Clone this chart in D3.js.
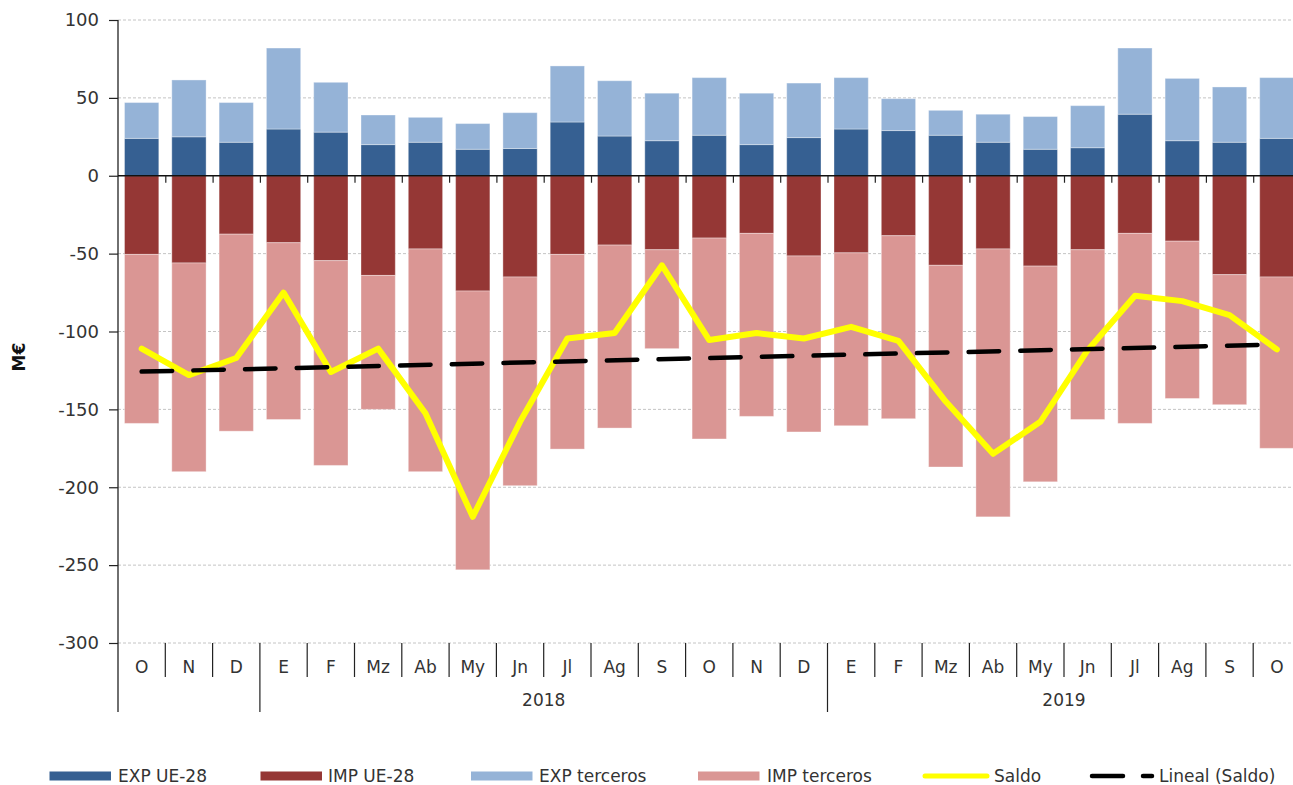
<!DOCTYPE html>
<html>
<head>
<meta charset="utf-8">
<script src="https://cdn.jsdelivr.net/npm/d3@7"></script>
<style>
  html, body { margin: 0; padding: 0; background: #fff; }
  svg { display: block; font-family: "DejaVu Sans", Verdana, sans-serif; }
</style>
</head>
<body>
<svg id="chart" width="1293" height="785"></svg>
<script>
// Monthly trade flows (M€), Oct 2017 – Oct 2019
const months = ["O","N","D","E","F","Mz","Ab","My","Jn","Jl","Ag","S","O","N","D","E","F","Mz","Ab","My","Jn","Jl","Ag","S","O"];
const years = [
  { label: "2018", from: 3, to: 14 },
  { label: "2019", from: 15, to: 24 }
];
const expUE  = [24, 25, 21.5, 30, 28, 20, 21.5, 17, 17.5, 34.5, 25.5, 22.5, 26, 20, 24.5, 30, 29, 26, 21.5, 17, 18, 39.5, 22.5, 21.5, 24];
const expTer = [23, 36.5, 25.5, 52, 32, 19, 16, 16.5, 23, 36, 35.5, 30.5, 37, 33, 35, 33, 20.5, 16, 18, 21, 27, 42.5, 40, 35.5, 39];
const impUE  = [-50.5, -56, -37.5, -43, -54.5, -64, -47, -74, -65, -50.5, -44.5, -47.5, -40, -37, -51.5, -49.5, -38.5, -57.5, -47, -58, -47.5, -37, -42, -63.5, -65];
const impTer = [-108.5, -134, -126.5, -113.5, -131.5, -86, -143, -179, -134, -125, -117.5, -63.5, -129, -117.5, -113, -111, -117.5, -129.5, -172, -138.5, -109, -122, -101, -83.5, -110];
const saldo  = [-111, -128, -117, -75, -126, -111, -152.5, -219, -158, -104.5, -101, -57.5, -105.5, -101, -104.5, -97, -106, -145, -178.5, -158, -112, -77, -80.5, -89.5, -111.5];
const yTicks = [100, 50, 0, -50, -100, -150, -200, -250, -300];

const seriesKeys = ["expUE", "impUE", "expTer", "impTer"];
const seriesNames = { expUE: "EXP UE-28", impUE: "IMP UE-28", expTer: "EXP terceros", impTer: "IMP terceros" };
const colors = { expUE: "#366092", impUE: "#953735", expTer: "#95B3D7", impTer: "#DA9694" };

const rows = months.map((m, i) => ({
  i, expUE: expUE[i], impUE: impUE[i], expTer: expTer[i], impTer: impTer[i]
}));

const svg = d3.select("#chart");
const plotL = 118, plotR = 1300.5, plotT = 20, plotB = 643;

const x = d3.scaleBand().domain(d3.range(months.length)).range([plotL, plotR]).padding(0);
const xEdge = d3.scaleLinear().domain([0, months.length]).range([plotL, plotR]);
const y = d3.scaleLinear().domain([-300, 100]).range([plotB, plotT]);
const barW = x.bandwidth() * 0.725;
const cx = i => x(i) + x.bandwidth() / 2;

const textColor = "#333";

// horizontal gridlines
svg.append("g")
  .selectAll("line")
  .data(yTicks.filter(t => t !== 0))
  .join("line")
  .attr("x1", plotL).attr("x2", plotR)
  .attr("y1", d => y(d)).attr("y2", d => y(d))
  .attr("stroke", "#c4c4c4")
  .attr("stroke-width", 1)
  .attr("stroke-dasharray", "3,2");

// stacked bars (positives above zero, negatives below)
const stacked = d3.stack().keys(seriesKeys).offset(d3.stackOffsetDiverging)(rows);
svg.append("g")
  .selectAll("g")
  .data(stacked)
  .join("g")
  .attr("fill", d => colors[d.key])
  .selectAll("rect")
  .data(d => d)
  .join("rect")
  .attr("x", d => cx(d.data.i) - barW / 2)
  .attr("width", barW)
  .attr("y", d => y(Math.max(d[0], d[1])))
  .attr("height", d => Math.abs(y(d[0]) - y(d[1])))
  .attr("stroke", "#ffffff")
  .attr("stroke-opacity", 0.35)
  .attr("stroke-width", 1);

// y axis (plain hyphen for negatives)
const yAxis = svg.append("g")
  .attr("transform", `translate(${plotL},0)`)
  .call(d3.axisLeft(y).tickValues(yTicks).tickSize(9).tickPadding(10).tickFormat(d => String(d)));
yAxis.select(".domain").remove();
yAxis.selectAll(".tick line").attr("stroke", "#222").attr("stroke-width", 1.2);
yAxis.selectAll(".tick text")
  .attr("fill", textColor)
  .style("font-size", "18px")
  .style("font-family", "'DejaVu Sans', Verdana, sans-serif");

// vertical axis line, continued down through the category label area
svg.append("line")
  .attr("x1", plotL).attr("x2", plotL)
  .attr("y1", plotT).attr("y2", 712)
  .attr("stroke", "#222").attr("stroke-width", 1.3);

// zero line with category ticks
const zAxis = svg.append("g")
  .attr("transform", `translate(0,${y(0)})`)
  .call(d3.axisBottom(xEdge).tickValues(d3.range(1, months.length + 1)).tickSize(7).tickFormat(""));
zAxis.select(".domain").attr("stroke", "#111").attr("stroke-width", 1.6).attr("d", `M${plotL},0H${plotR}`);
zAxis.selectAll(".tick line").attr("stroke", "#222").attr("stroke-width", 1.2);

// Saldo line
const saldoLine = d3.line().x((d, i) => cx(i)).y(d => y(d));
svg.append("path")
  .datum(saldo)
  .attr("d", saldoLine)
  .attr("fill", "none")
  .attr("stroke", "#FFFF00")
  .attr("stroke-width", 6)
  .attr("stroke-linejoin", "round")
  .attr("stroke-linecap", "round");

// Linear trend of Saldo (least squares)
const n = saldo.length;
const mx = d3.mean(d3.range(n));
const my = d3.mean(saldo);
const slope = d3.sum(saldo, (v, i) => (i - mx) * (v - my)) / d3.sum(d3.range(n), i => (i - mx) * (i - mx));
const intercept = my - slope * mx;
const trend = [0, n - 1].map(i => ({ i, v: intercept + slope * i }));
svg.append("path")
  .datum(trend)
  .attr("d", d3.line().x(d => cx(d.i)).y(d => y(d.v)))
  .attr("fill", "none")
  .attr("stroke", "#000")
  .attr("stroke-width", 4.5)
  .attr("stroke-linecap", "round")
  .attr("stroke-dasharray", "30.5,21.2");

// category labels (months)
const mAxis = svg.append("g")
  .attr("transform", `translate(0,${plotB})`)
  .call(d3.axisBottom(x).tickSize(0).tickPadding(0).tickFormat(i => months[i]));
mAxis.select(".domain").remove();
mAxis.selectAll(".tick text")
  .attr("y", 30)
  .attr("dy", 0)
  .attr("fill", textColor)
  .style("font-size", "17px")
  .style("font-family", "'DejaVu Sans', Verdana, sans-serif");

// month separators (short) and year separators (long)
const longEdges = [3, 15];
svg.append("g")
  .selectAll("line")
  .data(d3.range(1, months.length))
  .join("line")
  .attr("x1", d => xEdge(d)).attr("x2", d => xEdge(d))
  .attr("y1", plotB)
  .attr("y2", d => longEdges.includes(d) ? 712 : 677)
  .attr("stroke", "#222").attr("stroke-width", 1.2);

// year labels
svg.append("g")
  .selectAll("text")
  .data(years)
  .join("text")
  .attr("x", d => (xEdge(d.from) + xEdge(d.to + 1)) / 2)
  .attr("y", 706)
  .attr("text-anchor", "middle")
  .attr("fill", textColor)
  .style("font-size", "17px")
  .text(d => d.label);

// y axis title
svg.append("text")
  .attr("transform", "translate(25,357) rotate(-90)")
  .attr("text-anchor", "middle")
  .attr("fill", "#111")
  .style("font-size", "17px")
  .style("font-weight", "bold")
  .text("M€");

// legend
const legend = svg.append("g").style("font-size", "17px").attr("fill", textColor);
const swatchX = [49.5, 260.5, 471, 698];
const textX = [118, 328, 539, 767];
seriesKeys.forEach((k, j) => {
  legend.append("rect")
    .attr("x", swatchX[j]).attr("y", 771.5)
    .attr("width", 61.5).attr("height", 9)
    .attr("fill", colors[k]);
  legend.append("text")
    .attr("x", textX[j]).attr("y", 782)
    .text(seriesNames[k]);
});
legend.append("line")
  .attr("x1", 925).attr("x2", 987).attr("y1", 776).attr("y2", 776)
  .attr("stroke", "#FFFF00").attr("stroke-width", 5).attr("stroke-linecap", "round");
legend.append("text").attr("x", 994).attr("y", 782).text("Saldo");
legend.append("line")
  .attr("x1", 1092).attr("x2", 1123).attr("y1", 776).attr("y2", 776)
  .attr("stroke", "#000").attr("stroke-width", 4.5).attr("stroke-linecap", "round");
legend.append("line")
  .attr("x1", 1143).attr("x2", 1152).attr("y1", 776).attr("y2", 776)
  .attr("stroke", "#000").attr("stroke-width", 4.5).attr("stroke-linecap", "round");
legend.append("text").attr("x", 1159).attr("y", 782).text("Lineal (Saldo)");
</script>
</body>
</html>
